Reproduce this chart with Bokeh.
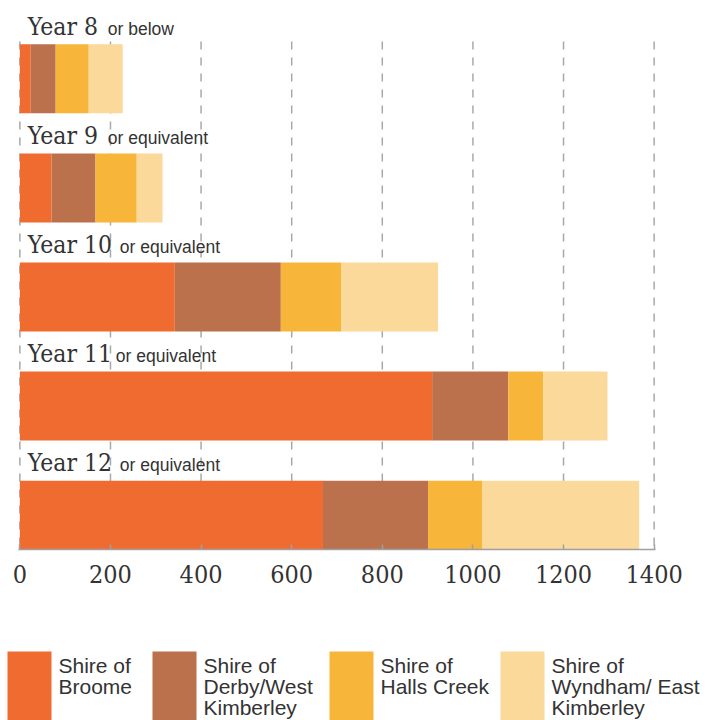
from bokeh.plotting import figure
from bokeh.models import Range1d, FixedTicker, LabelSet, ColumnDataSource
from bokeh.core.properties import value
from bokeh.embed import file_html
from bokeh.resources import INLINE

# ---- data ----
categories = ["Year 8", "Year 9", "Year 10", "Year 11", "Year 12"]
qualifiers = ["or below", "or equivalent", "or equivalent", "or equivalent", "or equivalent"]
broome = [24, 70, 342, 910, 669]
derby = [55, 97, 234, 168, 232]
halls = [73, 91, 133, 77, 119]
wyndham = [75, 57, 214, 142, 347]
series = ["Shire of Broome", "Shire of Derby/West Kimberley",
          "Shire of Halls Creek", "Shire of Wyndham/ East Kimberley"]
legend_lines = [["Shire of", "Broome"],
                ["Shire of", "Derby/West", "Kimberley"],
                ["Shire of", "Halls Creek"],
                ["Shire of", "Wyndham/ East", "Kimberley"]]
x_ticks = [0, 200, 400, 600, 800, 1000, 1200, 1400]

# ---- styles / layout ----
colors = ["#f06b30", "#bb714b", "#f7b53a", "#fbd99a"]
SLAB = "DejaVu Serif Condensed"
SANS = "Liberation Sans"
TXT = "#333333"
W = 709
H_MAIN = 610
H_LEG = 110
sub_offsets = [88, 88, 100, 96, 100]
Y_TOP = -0.7177      # frame top (y units)
Y_BOTTOM = 4.3144    # frame bottom (y units)
GRID_TOP = -0.342    # where the dashed guides start

pos = list(range(len(categories)))
src = ColumnDataSource(dict(pos=pos, broome=broome, derby=derby, halls=halls, wyndham=wyndham))

p = figure(width=W, height=H_MAIN, output_backend="svg", toolbar_location=None,
           x_range=Range1d(-3, 1403), y_range=Range1d(start=Y_BOTTOM, end=Y_TOP),
           y_axis_location=None, title=None,
           min_border_left=18, min_border_right=54, min_border_top=0,
           min_border_bottom=H_MAIN - 549)
p.outline_line_color = None
p.background_fill_color = "white"
p.border_fill_color = "white"
p.grid.visible = False

# dashed vertical guides at the tick values
p.segment(x0=x_ticks, x1=x_ticks, y0=[GRID_TOP] * len(x_ticks), y1=[Y_BOTTOM] * len(x_ticks),
          line_color="#a8a8a8", line_width=1.5, line_dash="8 8", level="underlay")

p.hbar_stack(["broome", "derby", "halls", "wyndham"], y="pos", height=0.632,
             color=colors, line_color=None, source=src)

ax = p.xaxis[0]
ax.ticker = FixedTicker(ticks=x_ticks)
ax.axis_line_color = "#a0a0a0"
ax.axis_line_width = 1.5
ax.major_tick_line_color = "#a0a0a0"
ax.major_tick_line_width = 1.5
ax.major_tick_in = 5
ax.major_tick_out = 0
ax.minor_tick_line_color = None
ax.major_label_text_font = SLAB
ax.major_label_text_font_size = "25px"
ax.major_label_text_color = TXT
ax.major_label_standoff = 15

lsrc = ColumnDataSource(dict(x=[0] * len(categories), y=pos, text=categories,
                             sub=qualifiers, dx=sub_offsets))
big = LabelSet(x="x", y="y", text="text", source=lsrc, x_offset=8, y_offset=44,
               text_font=value(SLAB), text_font_size="24.5px", text_color=TXT,
               text_baseline="alphabetic")
small = LabelSet(x="x", y="y", text="sub", source=lsrc, x_offset="dx", y_offset=44,
                 text_font=value(SANS), text_font_size="17.5px", text_color=TXT,
                 text_baseline="alphabetic")
p.add_layout(big)
p.add_layout(small)

# ---- legend figure (separate root, so its frame is not aligned to the chart) ----
leg = figure(width=W, height=H_LEG, output_backend="svg", toolbar_location=None,
             x_range=Range1d(0, W), y_range=Range1d(start=H_LEG, end=0),
             x_axis_location=None, y_axis_location=None, title=None,
             min_border=0)
leg.outline_line_color = None
leg.grid.visible = False
sq_left = [7, 152, 329, 500]
sq_w = 44
sq_top = 651 - H_MAIN
leg.quad(left=sq_left, right=[l + sq_w for l in sq_left], top=[sq_top] * 4,
         bottom=[H_LEG] * 4, color=colors, line_color=None)
tx, ty, tt = [], [], []
for l, lines in zip(sq_left, legend_lines):
    for k, line in enumerate(lines):
        tx.append(l + 51)
        ty.append(665 - H_MAIN + 21 * k)
        tt.append(line)
leg.text(x=tx, y=ty, text=tt, text_font=value(SANS), text_font_size="21px",
         text_color=TXT, text_baseline="alphabetic")

open("out.html", "w").write(file_html([p, leg], INLINE))
